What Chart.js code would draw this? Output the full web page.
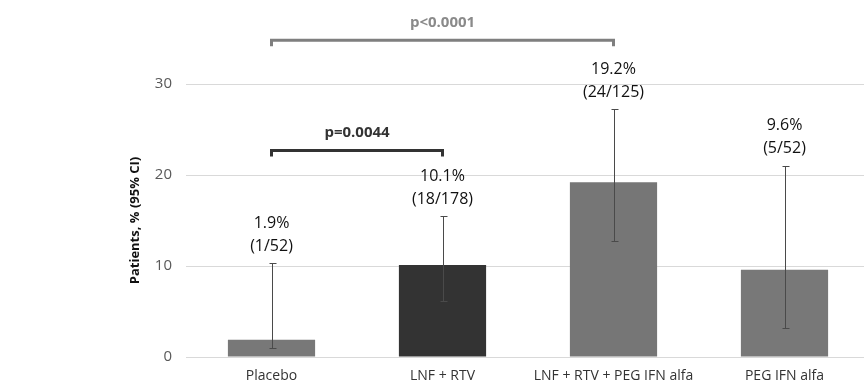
<!DOCTYPE html>
<html>
<head>
<meta charset="utf-8">
<script src="https://cdn.jsdelivr.net/npm/chart.js@4"></script>
<style>
  html, body { margin: 0; padding: 0; background: #fff; overflow: hidden; }
  #wrap { width: 872px; height: 389px; }
</style>
</head>
<body>
<div id="wrap"><canvas id="chartPacientes"></canvas></div>
<script>
// datos
const categorias = ['Placebo', 'LNF + RTV', 'LNF + RTV + PEG IFN alfa', 'PEG IFN alfa'];
const valores = [1.9, 10.1, 19.2, 9.6];
const ciInferior = [1.0, 6.2, 12.7, 3.2];
const ciSuperior = [10.3, 15.5, 27.2, 21.0];
const etiquetas = [['1.9%', '(1/52)'], ['10.1%', '(18/178)'], ['19.2%', '(24/125)'], ['9.6%', '(5/52)']];
const colores = ['#787878', '#333333', '#767676', '#787878'];
const yTicks = [0, 10, 20, 30];

// comparaciones (índices de barras, nivel en el eje y, texto)
const comparaciones = [
    { desde: 0, hasta: 2, nivel: 34.8, texto: 'p<0.0001', color: '#7f7f7f', colorTexto: '#8a8a8a' },
    { desde: 0, hasta: 1, nivel: 22.7, texto: 'p=0.0044', color: '#333333', colorTexto: '#333333' }
];

const pluginExtras = {
    id: 'extras',
    afterDatasetsDraw(chart) {
        const ctx = chart.ctx;
        const x = chart.scales.x;
        const y = chart.scales.y;

        // barras de error
        ctx.save();
        ctx.strokeStyle = '#4a4a4a';
        ctx.lineWidth = 1;
        valores.forEach((v, i) => {
            const cx = Math.round(x.getPixelForValue(i)) + 0.5;
            const yTop = Math.round(y.getPixelForValue(ciSuperior[i])) + 0.5;
            const yBot = Math.round(y.getPixelForValue(ciInferior[i])) + 0.5;
            ctx.beginPath();
            ctx.moveTo(cx, yTop); ctx.lineTo(cx, yBot);
            ctx.moveTo(cx - 3, yTop); ctx.lineTo(cx + 4, yTop);
            ctx.moveTo(cx - 3, yBot); ctx.lineTo(cx + 4, yBot);
            ctx.stroke();
        });

        // etiquetas de valores
        ctx.fillStyle = '#111';
        ctx.font = '16px "Open Sans"';
        ctx.textAlign = 'center';
        ctx.textBaseline = 'middle';
        etiquetas.forEach((lineas, i) => {
            const cx = x.getPixelForValue(i);
            const yTop = y.getPixelForValue(ciSuperior[i]);
            ctx.fillText(lineas[0], cx, yTop - 40);
            ctx.fillText(lineas[1], cx, yTop - 17);
        });

        // corchetes de significación
        comparaciones.forEach((c) => {
            const x1 = x.getPixelForValue(c.desde);
            const x2 = x.getPixelForValue(c.hasta);
            const yl = y.getPixelForValue(c.nivel);
            ctx.strokeStyle = c.color;
            ctx.lineWidth = 3;
            ctx.lineCap = 'butt';
            ctx.beginPath();
            ctx.moveTo(x1, yl + 6);
            ctx.lineTo(x1, yl);
            ctx.lineTo(x2, yl);
            ctx.lineTo(x2, yl + 6);
            ctx.stroke();
            ctx.fillStyle = c.colorTexto;
            ctx.font = 'bold 15px "Open Sans"';
            ctx.fillText(c.texto, (x1 + x2) / 2, yl - 18);
        });
        ctx.restore();
    }
};

const ctx = document.getElementById('chartPacientes');
const chartPacientes = new Chart(ctx, {
    type: 'bar',
    data: {
        labels: categorias,
        datasets: [{
            label: 'Patients',
            data: valores,
            backgroundColor: colores,
            borderWidth: 0,
            barPercentage: 0.51,
            categoryPercentage: 1
        }]
    },
    options: {
        responsive: true,
        maintainAspectRatio: false,
        animation: false,
        layout: {
            padding: { top: 84, right: 2, left: 0, bottom: 0 }
        },
        scales: {
            x: {
                afterFit: (scale) => { scale.height = 32; },
                grid: { display: false, drawTicks: false },
                border: { display: false },
                ticks: {
                    color: '#333',
                    font: { family: 'Open Sans', size: 14 },
                    padding: 11,
                    maxRotation: 0
                }
            },
            y: {
                min: 0,
                max: 30,
                afterBuildTicks: (scale) => {
                    scale.ticks = yTicks.map(v => ({ value: v }));
                },
                afterFit: (scale) => { scale.width = 186; },
                grid: { color: '#d9d9d9', drawTicks: false },
                border: { display: false },
                ticks: {
                    color: '#595959',
                    font: { family: 'Open Sans', size: 15 },
                    padding: 14
                },
                title: {
                    display: true,
                    text: 'Patients, % (95% CI)',
                    color: '#111',
                    font: { family: 'Open Sans', size: 13, weight: 'bold' },
                    padding: { top: 127, bottom: 0 }
                }
            }
        },
        plugins: {
            legend: { display: false },
            tooltip: { enabled: false }
        }
    },
    plugins: [pluginExtras]
});
</script>
</body>
</html>
